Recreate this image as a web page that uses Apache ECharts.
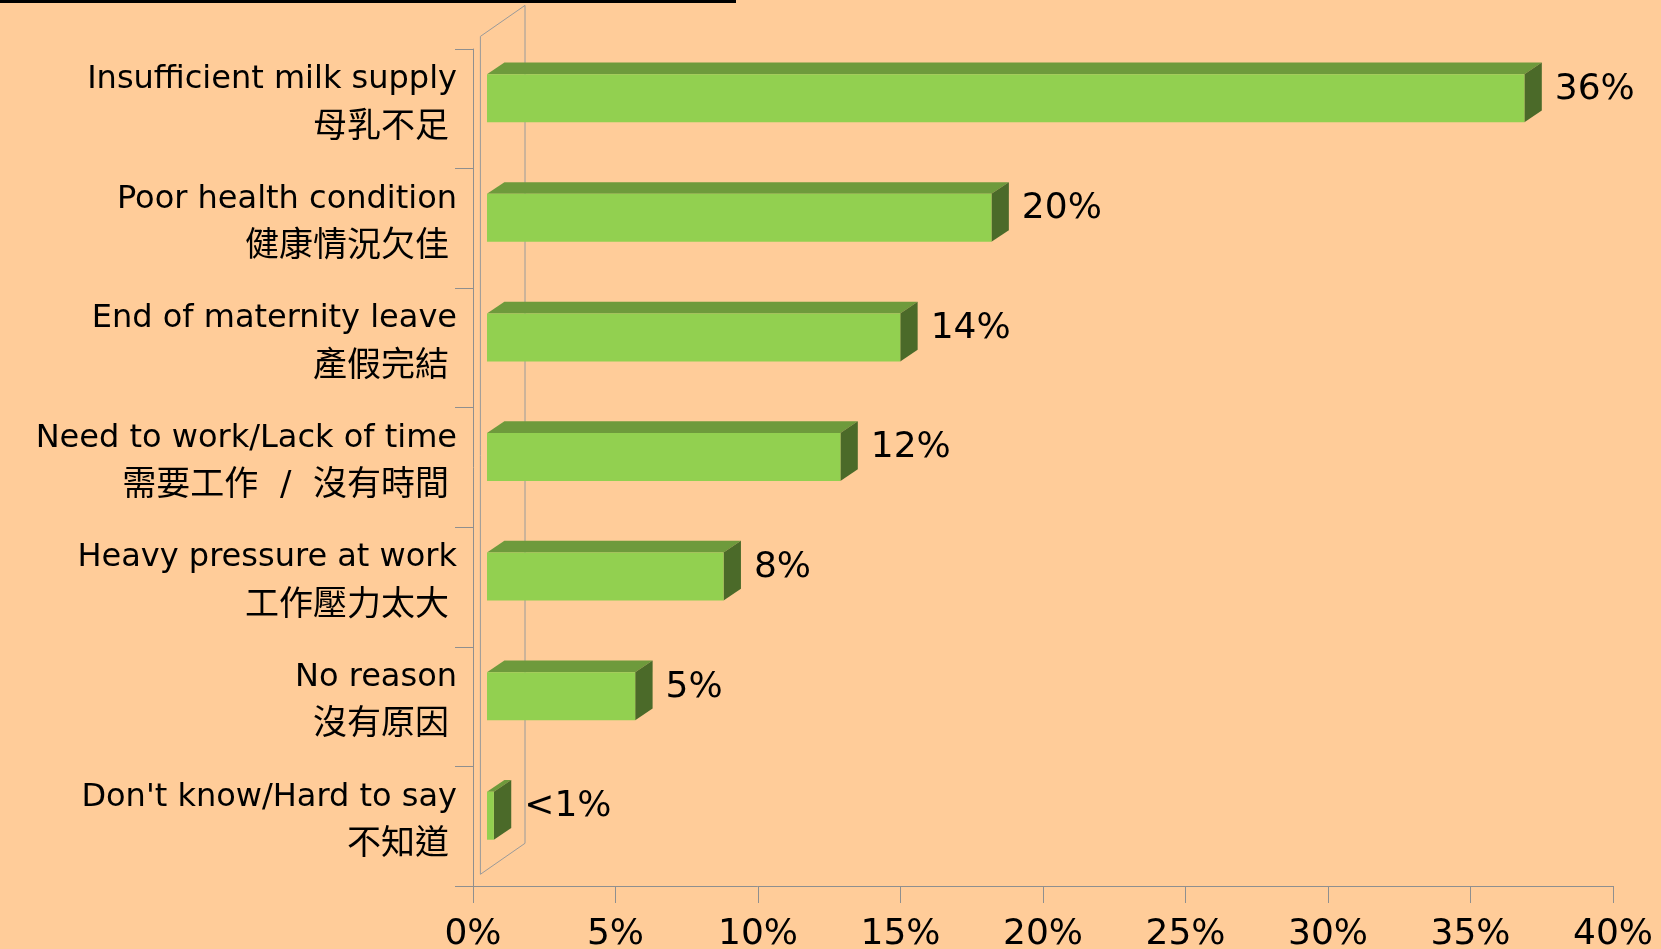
<!DOCTYPE html>
<html>
<head>
<meta charset="utf-8">
<script src="https://cdn.jsdelivr.net/npm/echarts@6/dist/echarts.min.js"></script>
<style>
  html, body { margin: 0; padding: 0; background: #FFCC99; }
  #main { width: 1661px; height: 949px; }
</style>
</head>
<body>
<div id="main"></div>
<script>
// categories, top to bottom
var categories = [
    'Insufficient milk supply\n母乳不足',
    'Poor health condition\n健康情況欠佳',
    'End of maternity leave\n產假完結',
    'Need to work/Lack of time\n需要工作  /  沒有時間',
    'Heavy pressure at work\n工作壓力太大',
    'No reason\n沒有原因',
    "Don't know/Hard to say\n不知道"
];
// bar lengths as drawn (percent)
var values = [36.4, 17.7, 14.5, 12.4, 8.3, 5.2, 0.24];
// printed labels
var valueLabels = ['36%', '20%', '14%', '12%', '8%', '5%', '<1%'];
var xTicks = [0, 5, 10, 15, 20, 25, 30, 35, 40];

var FONT = "'DejaVu Sans', 'Noto Sans CJK TC', sans-serif";
var frontColor = '#92D050';
var topColor = '#6E9A3C';
var sideColor = '#4B6A29';

var myChart = echarts.init(document.getElementById('main'));

function renderBar(params, api) {
    var v = api.value(0), idx = api.value(1);
    var p0 = api.coord([0, idx]);
    var p1 = api.coord([v, idx]);
    var x0 = p0[0] + 14, x1 = p1[0] + 14, cy = p0[1] - 10.5;
    var h = 48, dx = 17.4, dy = -11.7;
    var top = cy - h / 2, bot = cy + h / 2;
    return {
        type: 'group',
        children: [
            { type: 'polygon', shape: { points: [[x0, top], [x1, top], [x1 + dx, top + dy], [x0 + dx, top + dy]] }, style: { fill: topColor } },
            { type: 'polygon', shape: { points: [[x1, top], [x1 + dx, top + dy], [x1 + dx, bot + dy], [x1, bot]] }, style: { fill: sideColor } },
            { type: 'rect', shape: { x: x0, y: top, width: x1 - x0, height: h }, style: { fill: frontColor } },
            { type: 'text', style: { text: valueLabels[params.dataIndex], x: x1 + dx + 13, y: cy - 9, verticalAlign: 'middle', align: 'left', fontSize: 36, fontFamily: FONT, fill: '#000' } }
        ]
    };
}

// the thin back wall behind the bars
function renderWall(params, api) {
    var cs = params.coordSys;
    var fx = cs.x + 7.4, topY = cs.y - 12.6, botY = cs.y + cs.height - 11.7;
    var dx = 44.6, dy = -31;
    return {
        type: 'polygon',
        shape: { points: [[fx, topY], [fx + dx, topY + dy], [fx + dx, botY + dy], [fx, botY]] },
        style: { fill: 'none', stroke: '#9a9a9a', lineWidth: 1 }
    };
}

var option = {
    backgroundColor: '#FFCC99',
    animation: false,
    graphic: [
        { type: 'rect', left: 0, top: 0, shape: { width: 736, height: 3 }, style: { fill: '#000' } }
    ],
    grid: { left: 473, right: 48, top: 49, bottom: 63, containLabel: false, outerBoundsMode: 'none' },
    xAxis: {
        type: 'value',
        min: xTicks[0],
        max: xTicks[xTicks.length - 1],
        interval: 5,
        splitLine: { show: false },
        axisLine: { show: true, lineStyle: { color: '#8f8f8f', width: 1 } },
        axisTick: { show: true, length: 17, lineStyle: { color: '#8f8f8f' } },
        axisLabel: { formatter: '{value}%', margin: 31, fontSize: 36, fontFamily: FONT, color: '#000' }
    },
    yAxis: {
        type: 'category',
        inverse: true,
        data: categories,
        axisLine: { show: true, lineStyle: { color: '#8f8f8f', width: 1 } },
        axisTick: { show: true, length: 18, lineStyle: { color: '#8f8f8f' } },
        axisLabel: {
            margin: 16,
            padding: [0, 0, 10, 0],
            formatter: function (val) {
                var parts = val.split('\n');
                return '{en|' + parts[0] + '}\n{zh|' + parts[1] + '}';
            },
            rich: {
                en: { fontSize: 32, lineHeight: 48, fontFamily: FONT, color: '#000', align: 'right' },
                zh: { fontSize: 34, lineHeight: 48, fontFamily: FONT, color: '#000', align: 'right', padding: [0, 8, 0, 0] }
            }
        }
    },
    series: [
        {
            type: 'custom',
            name: 'wall',
            silent: true,
            z: 1,
            renderItem: renderWall,
            data: [[0, 0]]
        },
        {
            type: 'custom',
            name: 'reasons',
            z: 2,
            renderItem: renderBar,
            encode: { x: 0, y: 1 },
            data: values.map(function (v, i) { return [v, i]; })
        }
    ]
};
myChart.setOption(option);
</script>
</body>
</html>
